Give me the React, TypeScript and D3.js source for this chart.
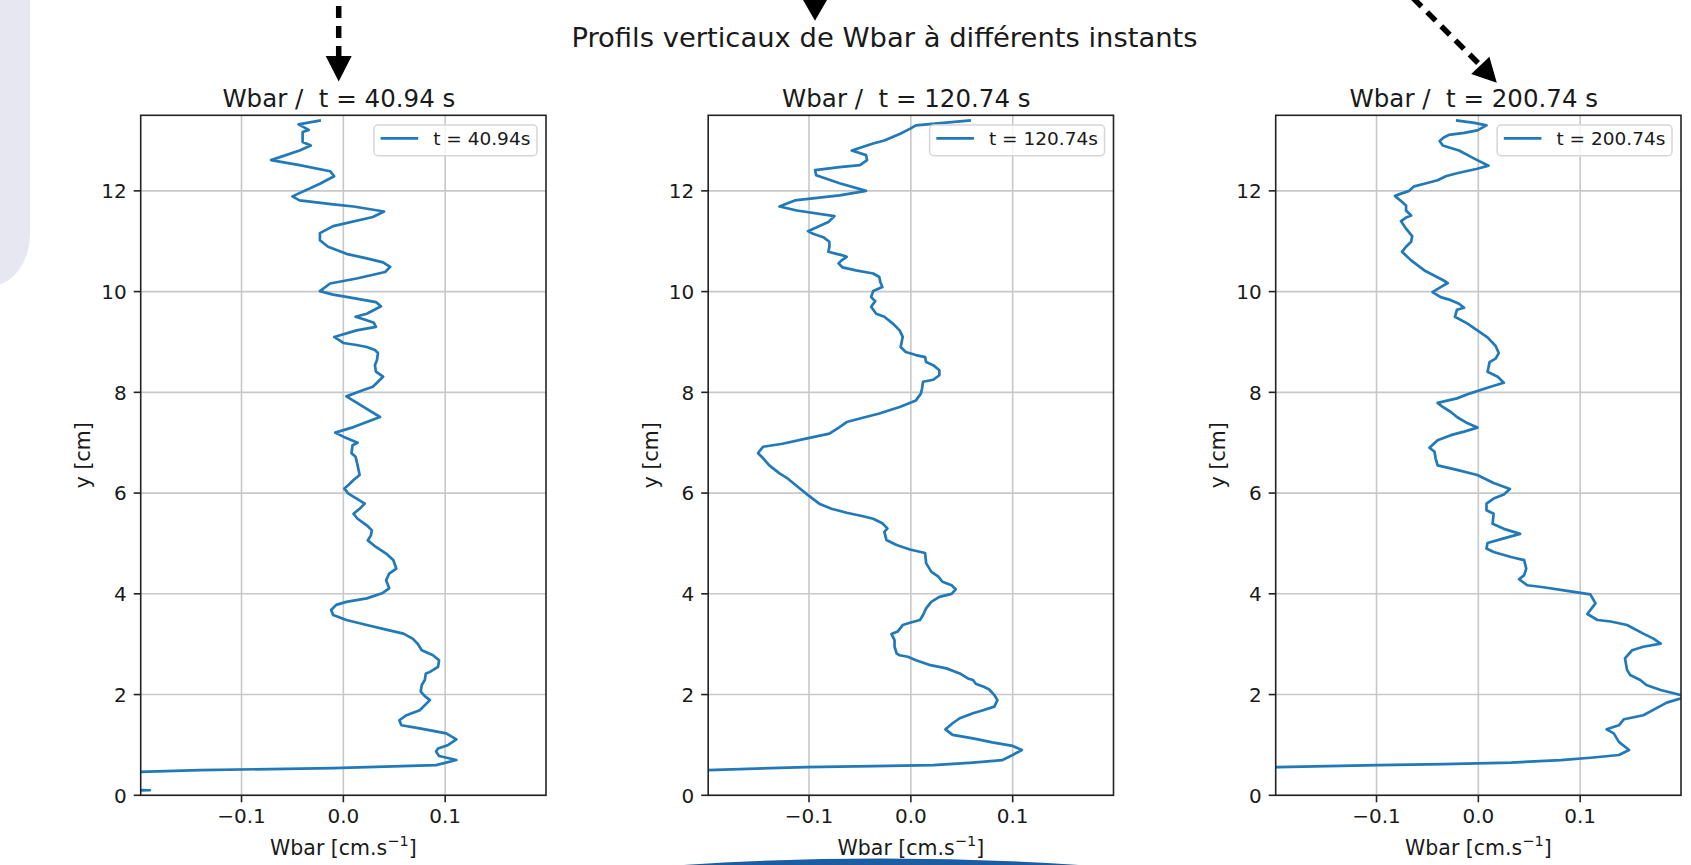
import React, { useEffect } from "react";
import * as d3 from "d3";

// ---------------- DATA ----------------
const suptitle = "Profils verticaux de Wbar à différents instants";
const times = ["40.94", "120.74", "200.74"];
const xTicks = [-0.1, 0.0, 0.1];
const yTicks = [0, 2, 4, 6, 8, 10, 12];
const xDomain: [number, number] = [-0.199, 0.199];
const yDomain: [number, number] = [0, 13.5];

// [Wbar (cm/s), y (cm)]
const profile40: [number, number][] = [
  [-0.022, 13.4], [-0.044, 13.32], [-0.034, 13.21], [-0.04, 13.17], [-0.04, 12.97],
  [-0.032, 12.9], [-0.043, 12.8], [-0.071, 12.61], [-0.043, 12.51], [-0.013, 12.39],
  [-0.009, 12.29], [-0.023, 12.14], [-0.05, 11.89], [-0.043, 11.81], [-0.01, 11.73],
  [0.01, 11.69], [0.04, 11.59], [0.029, 11.48], [-0.01, 11.3], [-0.023, 11.16],
  [-0.023, 11.02], [-0.015, 10.89], [0.003, 10.75], [0.023, 10.66], [0.039, 10.58],
  [0.046, 10.49], [0.041, 10.39], [0.013, 10.26], [-0.013, 10.16], [-0.023, 10.01],
  [-0.01, 9.94], [0.01, 9.87], [0.032, 9.79], [0.037, 9.71], [0.023, 9.56],
  [0.012, 9.5], [0.023, 9.43], [0.03, 9.38], [0.032, 9.3], [0.013, 9.23],
  [-0.009, 9.1], [0.0, 8.98], [0.013, 8.94], [0.023, 8.9], [0.031, 8.84],
  [0.034, 8.78], [0.033, 8.64], [0.031, 8.54], [0.032, 8.41], [0.039, 8.31],
  [0.029, 8.11], [0.019, 8.04], [0.003, 7.92], [0.019, 7.72], [0.036, 7.51],
  [0.023, 7.41], [0.01, 7.31], [-0.008, 7.2], [0.0, 7.12], [0.014, 7.0],
  [0.009, 6.95], [0.008, 6.79], [0.012, 6.72], [0.014, 6.55], [0.016, 6.36],
  [0.01, 6.26], [0.005, 6.16], [0.001, 6.09], [0.005, 5.99], [0.013, 5.89],
  [0.021, 5.79], [0.016, 5.69], [0.01, 5.59], [0.014, 5.49], [0.023, 5.36],
  [0.028, 5.26], [0.027, 5.16], [0.024, 5.06], [0.032, 4.93], [0.042, 4.8],
  [0.049, 4.67], [0.052, 4.5], [0.045, 4.4], [0.042, 4.27], [0.045, 4.11],
  [0.038, 4.01], [0.023, 3.91], [0.003, 3.84], [-0.007, 3.78], [-0.012, 3.68],
  [-0.01, 3.58], [0.003, 3.48], [0.023, 3.38], [0.042, 3.29], [0.059, 3.21],
  [0.068, 3.11], [0.073, 3.01], [0.077, 2.88], [0.088, 2.78], [0.094, 2.68],
  [0.093, 2.55], [0.085, 2.45], [0.081, 2.42], [0.08, 2.29], [0.077, 2.19],
  [0.076, 2.06], [0.08, 1.97], [0.085, 1.89], [0.075, 1.69], [0.062, 1.59],
  [0.055, 1.49], [0.057, 1.39], [0.075, 1.33], [0.101, 1.23], [0.111, 1.11],
  [0.103, 1.0], [0.093, 0.93], [0.091, 0.87], [0.094, 0.78], [0.111, 0.7],
  [0.091, 0.6], [-0.01, 0.54], [-0.141, 0.5], [-0.2, 0.465], [-0.6, 0.3],
  [-0.19, 0.1], [-0.6, 0.0],
];

const profile120: [number, number][] = [
  [0.059, 13.4], [0.005, 13.3], [-0.001, 13.23], [-0.011, 13.13], [-0.026, 13.0],
  [-0.037, 12.94], [-0.058, 12.8], [-0.044, 12.71], [-0.043, 12.61], [-0.05, 12.51],
  [-0.07, 12.47], [-0.094, 12.41], [-0.093, 12.31], [-0.07, 12.15], [-0.044, 12.0],
  [-0.07, 11.91], [-0.114, 11.81], [-0.129, 11.69], [-0.112, 11.61], [-0.075, 11.5],
  [-0.081, 11.38], [-0.101, 11.2], [-0.096, 11.15], [-0.086, 11.08], [-0.08, 10.99],
  [-0.08, 10.89], [-0.081, 10.79], [-0.073, 10.75], [-0.067, 10.72], [-0.063, 10.69],
  [-0.068, 10.62], [-0.071, 10.56], [-0.067, 10.48], [-0.054, 10.42], [-0.037, 10.36],
  [-0.031, 10.29], [-0.03, 10.19], [-0.028, 10.09], [-0.037, 10.01], [-0.039, 9.89],
  [-0.035, 9.81], [-0.039, 9.7], [-0.034, 9.56], [-0.026, 9.5], [-0.018, 9.37],
  [-0.011, 9.23], [-0.008, 9.1], [-0.01, 8.9], [-0.005, 8.8], [0.005, 8.74],
  [0.014, 8.7], [0.015, 8.6], [0.022, 8.54], [0.028, 8.44], [0.028, 8.34],
  [0.022, 8.25], [0.012, 8.21], [0.011, 8.08], [0.01, 7.98], [0.005, 7.84],
  [-0.011, 7.71], [-0.031, 7.58], [-0.05, 7.48], [-0.063, 7.41], [-0.07, 7.31],
  [-0.08, 7.18], [-0.103, 7.08], [-0.126, 6.98], [-0.145, 6.92], [-0.148, 6.85],
  [-0.15, 6.79], [-0.145, 6.69], [-0.139, 6.55], [-0.129, 6.39], [-0.121, 6.29],
  [-0.109, 6.09], [-0.101, 5.96], [-0.09, 5.79], [-0.078, 5.69], [-0.063, 5.61],
  [-0.047, 5.54], [-0.037, 5.49], [-0.028, 5.4], [-0.023, 5.3], [-0.026, 5.23],
  [-0.024, 5.07], [-0.014, 4.97], [-0.001, 4.88], [0.014, 4.81], [0.015, 4.61],
  [0.02, 4.44], [0.027, 4.34], [0.031, 4.24], [0.04, 4.17], [0.044, 4.09],
  [0.04, 4.0], [0.028, 3.94], [0.02, 3.84], [0.015, 3.71], [0.012, 3.58],
  [0.009, 3.48], [0.0, 3.43], [-0.008, 3.38], [-0.013, 3.25], [-0.019, 3.2],
  [-0.016, 3.08], [-0.016, 2.95], [-0.014, 2.82], [-0.011, 2.78], [-0.003, 2.75],
  [0.005, 2.68], [0.018, 2.59], [0.035, 2.52], [0.048, 2.42], [0.056, 2.32],
  [0.061, 2.29], [0.064, 2.21], [0.071, 2.16], [0.077, 2.1], [0.082, 1.99],
  [0.085, 1.89], [0.082, 1.76], [0.071, 1.69], [0.061, 1.63], [0.048, 1.53],
  [0.041, 1.43], [0.034, 1.31], [0.041, 1.2], [0.061, 1.13], [0.08, 1.05],
  [0.1, 0.98], [0.109, 0.9], [0.1, 0.8], [0.09, 0.7], [0.061, 0.65],
  [0.022, 0.6], [-0.037, 0.58], [-0.103, 0.56], [-0.199, 0.5], [-0.5, 0.35],
];

const profile200: [number, number][] = [
  [-0.022, 13.4], [-0.004, 13.35], [0.008, 13.3], [-0.001, 13.2], [-0.014, 13.15],
  [-0.029, 13.11], [-0.034, 13.06], [-0.038, 12.99], [-0.035, 12.9], [-0.019, 12.8],
  [-0.004, 12.64], [0.01, 12.5], [-0.001, 12.44], [-0.021, 12.35], [-0.032, 12.29],
  [-0.04, 12.21], [-0.053, 12.14], [-0.063, 12.09], [-0.068, 12.0], [-0.078, 11.93],
  [-0.082, 11.9], [-0.076, 11.8], [-0.071, 11.71], [-0.071, 11.61], [-0.066, 11.51],
  [-0.071, 11.47], [-0.076, 11.4], [-0.071, 11.25], [-0.065, 11.1], [-0.066, 10.99],
  [-0.071, 10.89], [-0.075, 10.79], [-0.066, 10.62], [-0.053, 10.42], [-0.034, 10.22],
  [-0.03, 10.17], [-0.037, 10.09], [-0.045, 9.99], [-0.037, 9.89], [-0.027, 9.83],
  [-0.019, 9.76], [-0.014, 9.68], [-0.021, 9.64], [-0.023, 9.5], [-0.011, 9.37],
  [-0.001, 9.23], [0.009, 9.09], [0.017, 8.92], [0.02, 8.78], [0.017, 8.67],
  [0.011, 8.6], [0.01, 8.5], [0.009, 8.41], [0.019, 8.31], [0.025, 8.19],
  [0.012, 8.11], [-0.008, 7.98], [-0.021, 7.88], [-0.04, 7.79], [-0.035, 7.71],
  [-0.027, 7.61], [-0.021, 7.51], [-0.011, 7.39], [-0.001, 7.3], [-0.014, 7.22],
  [-0.027, 7.15], [-0.04, 7.05], [-0.048, 6.9], [-0.043, 6.82], [-0.042, 6.69],
  [-0.04, 6.55], [-0.021, 6.46], [-0.001, 6.36], [0.015, 6.2], [0.031, 6.08],
  [0.025, 5.97], [0.015, 5.89], [0.008, 5.79], [0.008, 5.66], [0.015, 5.59],
  [0.014, 5.39], [0.025, 5.29], [0.041, 5.19], [0.025, 5.1], [0.009, 5.01],
  [0.008, 4.9], [0.015, 4.83], [0.032, 4.73], [0.045, 4.67], [0.047, 4.5],
  [0.045, 4.37], [0.04, 4.29], [0.048, 4.17], [0.064, 4.13], [0.084, 4.07],
  [0.11, 3.99], [0.115, 3.81], [0.107, 3.6], [0.117, 3.48], [0.13, 3.45],
  [0.146, 3.38], [0.162, 3.21], [0.172, 3.11], [0.179, 3.01], [0.162, 2.95],
  [0.151, 2.88], [0.144, 2.72], [0.146, 2.49], [0.149, 2.39], [0.159, 2.29],
  [0.165, 2.19], [0.179, 2.09], [0.205, 1.96], [0.185, 1.84], [0.175, 1.73],
  [0.162, 1.59], [0.143, 1.51], [0.138, 1.39], [0.126, 1.31], [0.133, 1.23],
  [0.138, 1.06], [0.148, 0.9], [0.138, 0.8], [0.113, 0.75], [0.081, 0.7],
  [0.032, 0.65], [-0.034, 0.62], [-0.099, 0.6], [-0.197, 0.56], [-0.5, 0.4],
];

const profiles = [profile40, profile120, profile200];

// ---------------- LAYOUT ----------------
const W = 1691;
const H = 865;
const FONT = "'DejaVu Sans', sans-serif";
const LINE = "#2179b8";
const panelLeft0 = 140.7;
const panelStep = 567.5;
const panelW = 405.3;
const panelTop = 115.3;
const panelBottom = 795.3;

const charW: Record<string, number> = {
  t: 0.392, " ": 0.318, "=": 0.838, ".": 0.318, s: 0.521,
};
function textWidth(str: string, size: number) {
  let w = 0;
  for (const c of str) w += (charW[c] ?? 0.636) * size;
  return w;
}

function Panel({ idx }: { idx: number }) {
  const left = panelLeft0 + idx * panelStep;
  const right = left + panelW;
  const x = d3.scaleLinear().domain(xDomain).range([left, right]);
  const y = d3.scaleLinear().domain(yDomain).range([panelBottom, panelTop]);
  const data = profiles[idx];
  const line = d3
    .line<[number, number]>()
    .x((d) => x(d[0]))
    .y((d) => y(d[1]));
  const fmt = (v: number) => d3.format(".1f")(v).replace("-", "\u2212");
  const cx = (left + right) / 2;
  const clipId = `clip${idx}`;

  const legFont = 18.5;
  const legLabel = `t = ${times[idx]}s`;
  const legW = 6.7 + 37.6 + 15 + textWidth(legLabel, legFont) + 6.7;
  const legX = right - 9 - legW;
  const legY = panelTop + 9.7;
  const legH = 30.7;

  return (
    <g>
      <defs>
        <clipPath id={clipId}>
          <rect x={left} y={panelTop} width={panelW} height={panelBottom - panelTop} />
        </clipPath>
      </defs>
      {/* grid */}
      {xTicks.map((t) => (
        <line key={"gx" + t} x1={x(t)} x2={x(t)} y1={panelTop} y2={panelBottom}
          stroke="#c8c8c8" strokeWidth={1.6} />
      ))}
      {yTicks.map((t) => (
        <line key={"gy" + t} x1={left} x2={right} y1={y(t)} y2={y(t)}
          stroke="#c8c8c8" strokeWidth={1.6} />
      ))}
      {/* profile */}
      <path d={line(data) || ""} fill="none" stroke={LINE} strokeWidth={2.7}
        strokeLinejoin="round" clipPath={`url(#${clipId})`} />
      {/* spines */}
      <rect x={left} y={panelTop} width={panelW} height={panelBottom - panelTop}
        fill="none" stroke="#222" strokeWidth={1.6} />
      {/* x ticks */}
      {xTicks.map((t) => (
        <g key={"xt" + t}>
          <line x1={x(t)} x2={x(t)} y1={panelBottom} y2={panelBottom + 7} stroke="#222" strokeWidth={1.6} />
          <text x={x(t)} y={panelBottom + 28} textAnchor="middle" fontSize={20}
            fontFamily={FONT} fill="#1a1a1a">{fmt(t)}</text>
        </g>
      ))}
      {/* y ticks */}
      {yTicks.map((t) => (
        <g key={"yt" + t}>
          <line x1={left - 7} x2={left} y1={y(t)} y2={y(t)} stroke="#222" strokeWidth={1.6} />
          <text x={left - 14} y={y(t)} dy="0.36em" textAnchor="end" fontSize={20}
            fontFamily={FONT} fill="#1a1a1a">{String(t)}</text>
        </g>
      ))}
      {/* title */}
      <text x={cx - 4.5} y={panelTop - 8.6} textAnchor="middle" fontSize={24.5}
        fontFamily={FONT} fill="#1a1a1a" style={{ whiteSpace: "pre" }}>
        {`Wbar /  t = ${times[idx]} s`}
      </text>
      {/* x label */}
      <text x={cx} y={855} textAnchor="middle" fontSize={20.5} fontFamily={FONT} fill="#1a1a1a">
        <tspan>Wbar [cm.s</tspan>
        <tspan dy={-9} fontSize={14.5}>{"\u22121"}</tspan>
        <tspan dy={9}>]</tspan>
      </text>
      {/* y label */}
      <text transform={`translate(${left - 50.5},${(panelTop + panelBottom) / 2}) rotate(-90)`}
        textAnchor="middle" fontSize={20.5} fontFamily={FONT} fill="#1a1a1a">y [cm]</text>
      {/* legend */}
      <rect x={legX} y={legY} width={legW} height={legH} rx={4} ry={4}
        fill="#ffffff" fillOpacity={0.8} stroke="#d6d6d6" strokeWidth={1.5} />
      <line x1={legX + 6.7} x2={legX + 6.7 + 37.6} y1={legY + 13.3} y2={legY + 13.3}
        stroke={LINE} strokeWidth={2.7} />
      <text x={legX + 6.7 + 37.6 + 15} y={legY + 13.3} dy="0.36em" fontSize={legFont}
        fontFamily={FONT} fill="#1a1a1a">{legLabel}</text>
    </g>
  );
}

export default function App() {
  useEffect(() => {
    document.body.style.margin = "0";
    document.body.style.overflow = "hidden";
  }, []);
  return (
    <svg width={W} height={H} viewBox={`0 0 ${W} ${H}`}
      style={{ position: "absolute", left: 0, top: 0, display: "block", background: "#fff" }}>
      <rect x={0} y={0} width={W} height={H} fill="#ffffff" />
      {/* slide decorations */}
      <rect x={-50} y={-60} width={80} height={346} rx={40} ry={52} fill="#e7e7f2" />
      <path d="M 655 867 Q 882 850 1107 867 Z" fill="#1c5ca3" />
      {/* arrow 1 (vertical dashed) */}
      <line x1={338.7} x2={338.7} y1={6} y2={57} stroke="#000" strokeWidth={5.5} strokeDasharray="12 8" />
      <path d="M 325.7 56 L 351.7 56 L 338.7 81.5 Z" fill="#000" />
      {/* arrow 2 (head only) */}
      <path d="M 803 0 L 827 0 L 815 20.7 Z" fill="#000" />
      {/* arrow 3 (diagonal dashed) */}
      <line x1={1413} x2={1481} y1={-2} y2={66} stroke="#000" strokeWidth={5.5} strokeDasharray="12 8" />
      <path d="M 1496.8 82.7 L 1471.2 73.9 L 1489.4 56.7 Z" fill="#000" />
      {/* suptitle */}
      <text x={884.5} y={46.7} textAnchor="middle" fontSize={27.4} fontFamily={FONT} fill="#1a1a1a">
        {suptitle}
      </text>
      {[0, 1, 2].map((i) => (
        <Panel key={i} idx={i} />
      ))}
    </svg>
  );
}
